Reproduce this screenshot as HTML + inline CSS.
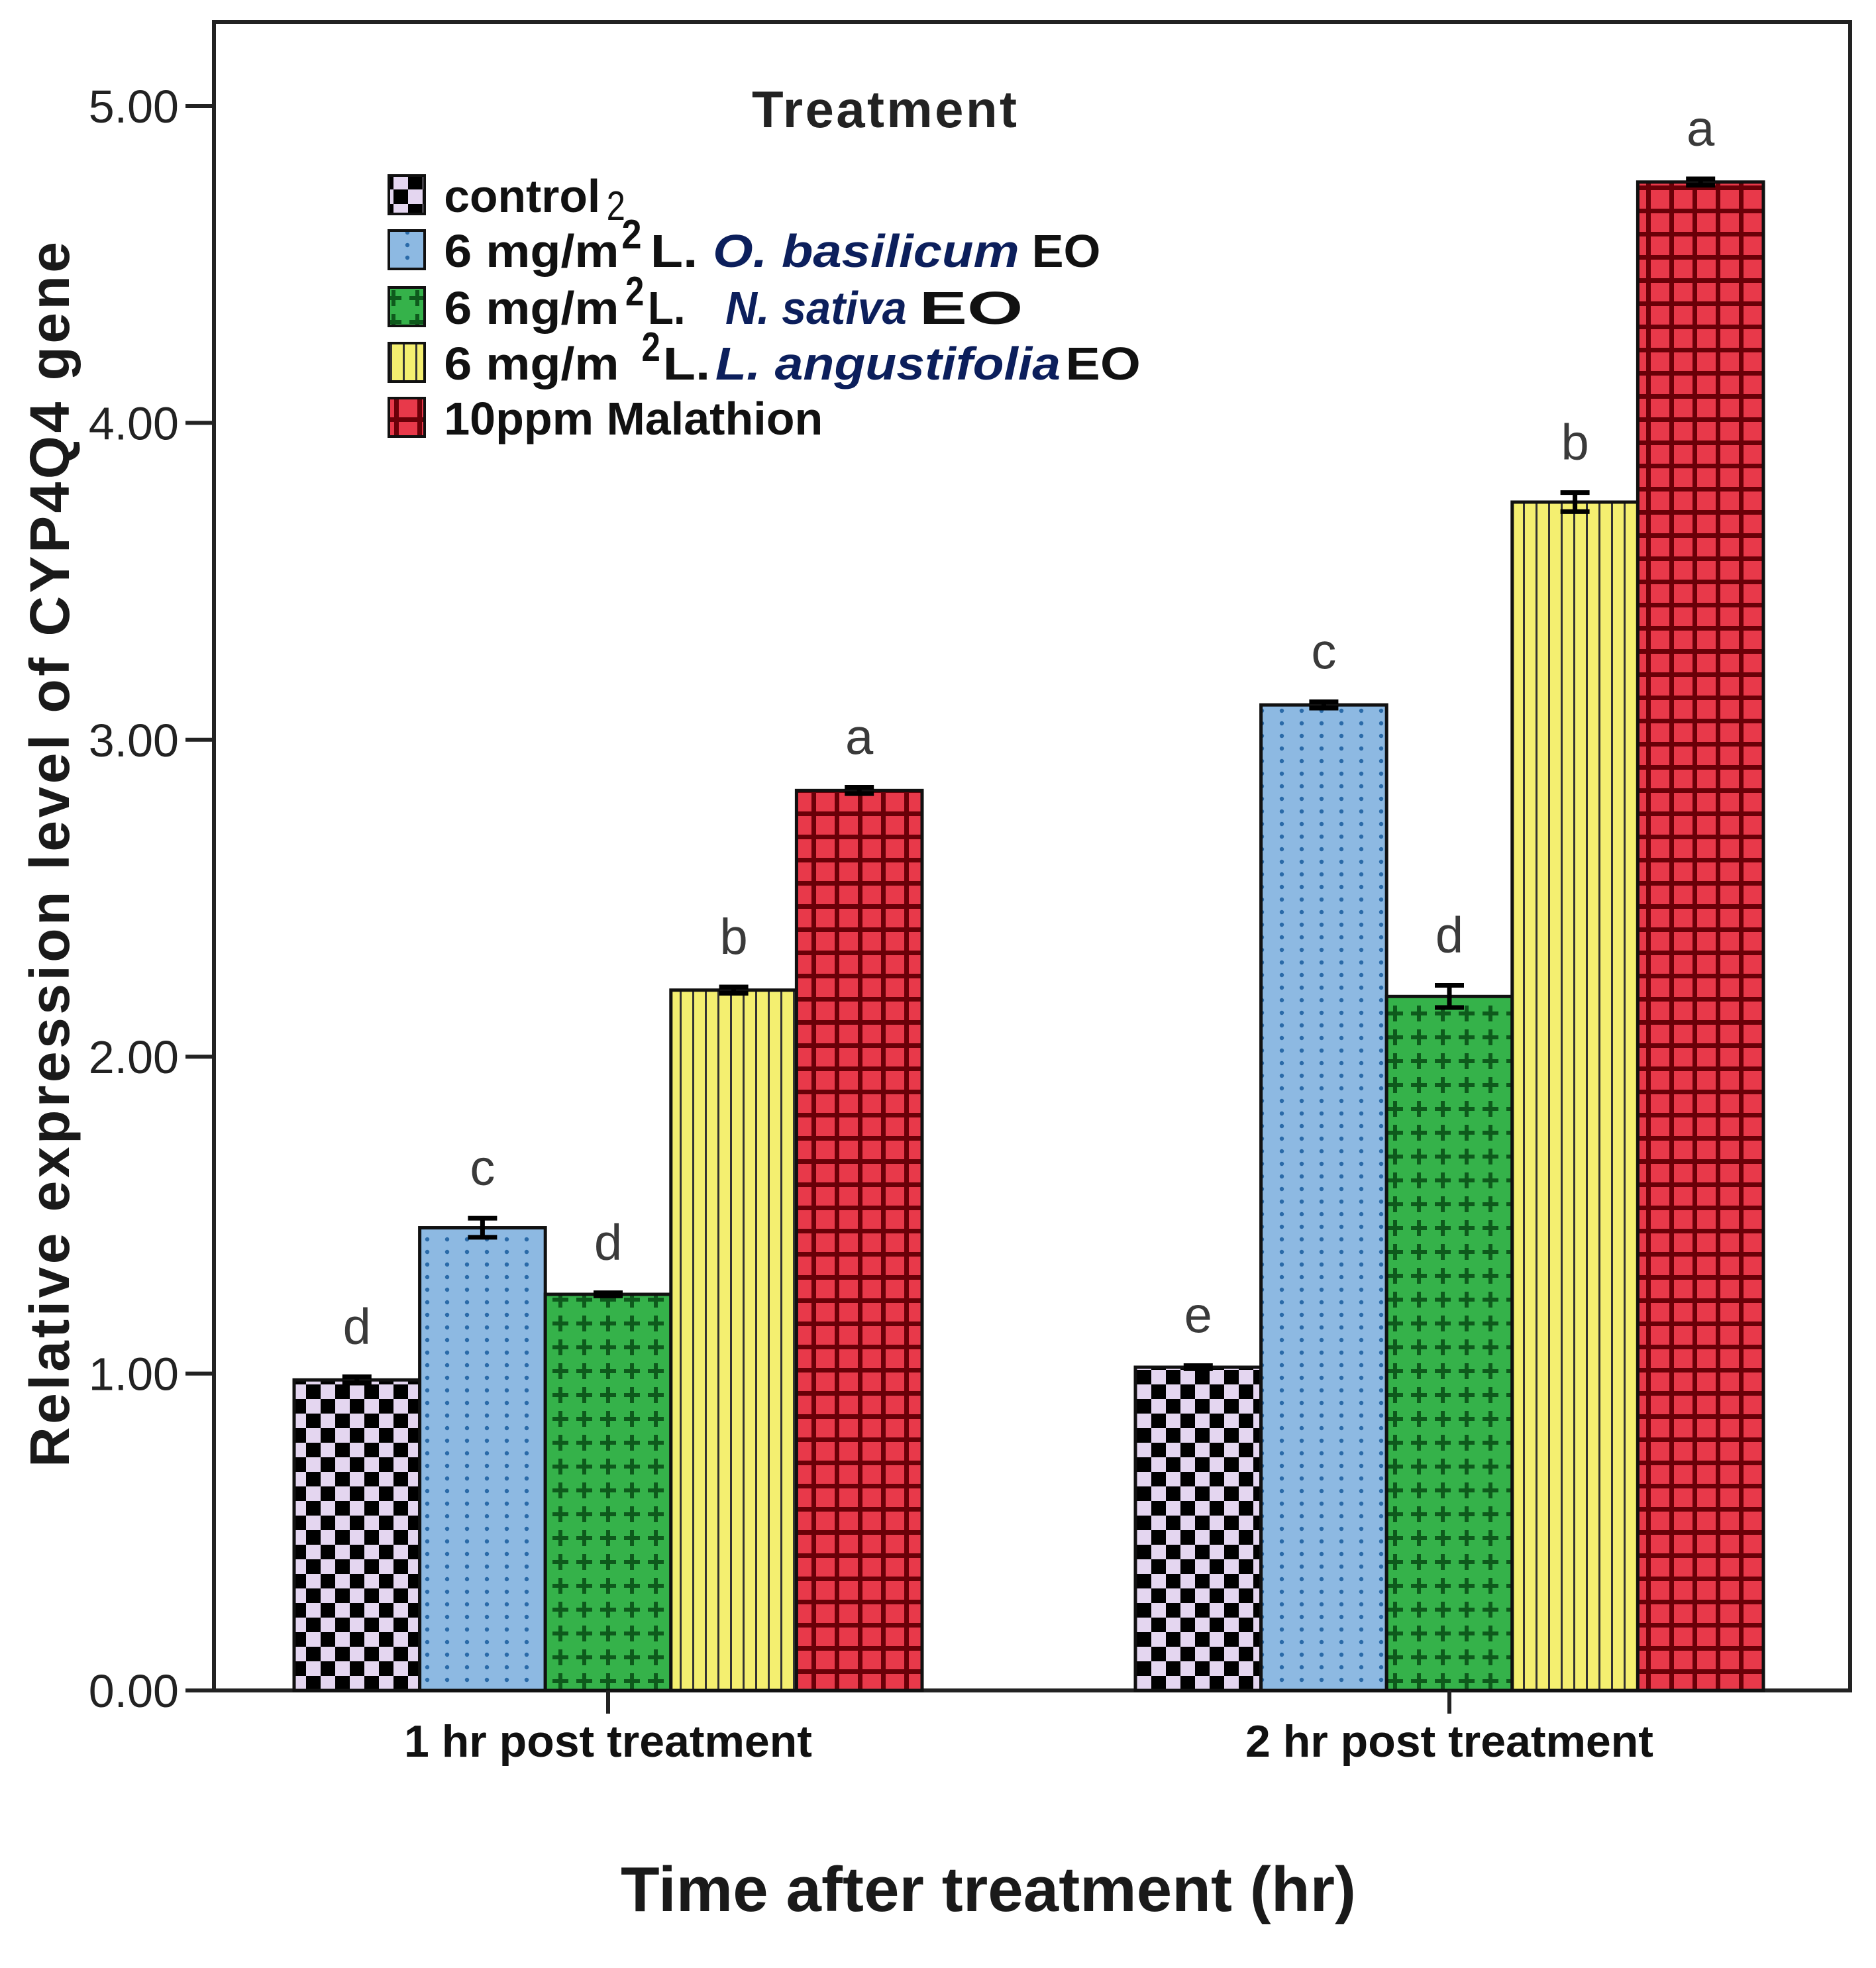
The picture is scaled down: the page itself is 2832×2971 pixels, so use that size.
<!DOCTYPE html>
<html><head><meta charset="utf-8"><style>
html,body{margin:0;padding:0;background:#fff}
svg{display:block}
text{font-family:"Liberation Sans",Arial,sans-serif}
</style></head><body>
<svg id="chart" width="2832" height="2971" viewBox="0 0 2832 2971" xmlns="http://www.w3.org/2000/svg">
<defs>
<pattern id="p0" width="44" height="44" patternUnits="userSpaceOnUse"><rect width="44" height="44" fill="#e4d6f0"/><rect width="22" height="22" fill="#000"/><rect x="22" y="22" width="22" height="22" fill="#000"/></pattern>
<pattern id="p1" width="30" height="19" patternUnits="userSpaceOnUse"><rect width="30" height="19" fill="#8db9e2"/><circle cx="15" cy="9" r="3.2" fill="#2a6aa8"/></pattern>
<pattern id="p2" width="36" height="36" patternUnits="userSpaceOnUse"><rect width="36" height="36" fill="#35b24a"/><path d="M18 6v24M6 18h24" stroke="#0e5a1c" stroke-width="6"/></pattern>
<pattern id="p3" width="19" height="19" patternUnits="userSpaceOnUse"><rect width="19" height="19" fill="#f4ef70"/><rect x="0" width="3" height="19" fill="#333"/></pattern>
<pattern id="p4" width="35" height="35" patternUnits="userSpaceOnUse"><rect width="35" height="35" fill="#e8394a"/><rect width="35" height="7" fill="#6a0008"/><rect width="7" height="35" fill="#6a0008"/></pattern>
</defs>
</svg>
<script>
const groups = ["1 hr post treatment", "2  hr post treatment"];
const series = ["control", "O. basilicum", "N. sativa", "L. angustifolia", "Malathion"];
const valuesG1 = [0.98, 1.46, 1.25, 2.21, 2.84];
const valuesG2 = [1.02, 3.11, 2.19, 3.75, 4.76];
const errG1 = [0.01, 0.03, 0.005, 0.01, 0.01];
const errG2 = [0.005, 0.01, 0.035, 0.03, 0.01];
const lettersG1 = ["d", "c", "d", "b", "a"];
const lettersG2 = ["e", "c", "d", "b", "a"];
const yTicks = [0, 1, 2, 3, 4, 5];
const yTickLabels = ["0.00", "1.00", "2.00", "3.00", "4.00", "5.00"];

const NS = "http://www.w3.org/2000/svg";
const svg = document.getElementById("chart");
const L = 323, R = 2793, T = 33, B = 2552;
const y = v => B - v * 478.4;
const groupStart = [444, 1714], barW = 189.6;
const x = (g, i) => groupStart[g] + i * barW;
function mk(tag, attrs, parent) { const e = document.createElementNS(NS, tag); for (const k in attrs) e.setAttribute(k, attrs[k]); (parent || svg).appendChild(e); return e; }

const frame = mk("rect", {x: L, y: T, width: R - L, height: B - T, fill: "none", stroke: "#222", "stroke-width": 6});



yTicks.forEach((t, i) => {
  const tk = mk("line", {x1: 280, x2: L, y1: y(t), y2: y(t), stroke: "#222", "stroke-width": 6});
  
  
  const lb = mk("text", {x: 270, y: y(t) + 25, "text-anchor": "end", "font-size": 70, fill: "#222"});
  lb.textContent = yTickLabels[i];
  
  
});

const vals = [valuesG1, valuesG2], errs = [errG1, errG2], lets = [lettersG1, lettersG2];
vals.forEach((vs, g) => {
  vs.forEach((v, i) => {
    const b = mk("rect", {x: x(g, i), y: y(v), width: barW, height: B - y(v), fill: "url(#p" + i + ")", stroke: "#111", "stroke-width": 5});
    
    
    const cx = x(g, i) + barW / 2, e = errs[g][i];
    const eb = mk("path", {d: `M${cx - 22} ${y(v + e)}h44M${cx} ${y(v + e)}V${y(v - e)}M${cx - 22} ${y(v - e)}h44`, stroke: "#000", "stroke-width": 7, fill: "none"});
    
    
    const lt = mk("text", {x: cx, y: y(v + e) - 50, "text-anchor": "middle", "font-size": 76, fill: "#3a3a3a"});
    lt.textContent = lets[g][i];
    
    
  });
  const gc = groupStart[g] + barW * 2.5;
  const xt = mk("line", {x1: gc, x2: gc, y1: B, y2: B + 35, stroke: "#222", "stroke-width": 6});
  
  
  const xl = mk("text", {x: gc, y: 2652, "text-anchor": "middle", "font-size": 68, "font-weight": "bold", fill: "#111"});
  xl.textContent = groups[g];
  
  
});

const xt = mk("text", {x: 1492, y: 2885, "text-anchor": "middle", "font-size": 96, fill: "#1a1a1a", textLength: 1110, "font-weight": "bold"});
xt.textContent = "Time after treatment (hr)";


const yt = mk("text", {x: 0, y: 0, "text-anchor": "middle", "font-size": 84, "font-weight": "bold", fill: "#1a1a1a", textLength: 1850, transform: "translate(104,1290) rotate(-90)"});
yt.textContent = "Relative expression level of CYP4Q4 gene";



const lg = mk("g", {});


const lt = mk("text", {x: 1335, y: 192, "text-anchor": "middle", "font-size": 78, "font-weight": "bold", fill: "#222", textLength: 400}, lg);
lt.textContent = "Treatment";


const S = 1.888;
const rowsY = [295, 378, 464, 548, 631];
// [text, x0 (display), x1 (display), dy, italic]
const rows = [
  [["control", 355, 480, 0, 0], ["2", 485, 500, 12, 0]],
  [["6 mg/m", 355, 495, 0, 0], ["2", 497, 513, -28, 0], ["L.", 520, 558, 0, 0], ["O. basilicum", 570, 815, 0, 1], ["EO", 825, 880, 0, 0]],
  [["6 mg/m", 355, 495, 0, 0], ["2", 500, 515, -28, 0], ["L.", 518, 548, 0, 0], ["N. sativa", 580, 725, 0, 1], ["EO", 735, 818, 0, 0]],
  [["6 mg/m", 355, 495, 0, 0], ["2", 513, 528, -28, 0], ["L.", 530, 568, 0, 0], ["L. angustifolia", 572, 848, 0, 1], ["EO", 852, 912, 0, 0]],
  [["10ppm Malathion", 355, 658, 0, 0]]
];
rows.forEach((r, i) => {
  const sw = mk("rect", {x: 587, y: rowsY[i] - 30, width: 54, height: 58, fill: "url(#p" + i + ")", stroke: "#111", "stroke-width": 4}, lg);
  
  
  r.forEach(p => {
    const t = mk("text", {x: p[1] * S, y: rowsY[i] + 25 + p[3], "font-size": p[0] === "2" ? 62 : 70, "font-weight": p[0] === "2" && i === 0 ? "normal" : "bold", fill: p[4] ? "#0c1f5c" : "#111", "font-style": p[4] ? "italic" : "normal", textLength: (p[2] - p[1]) * S, lengthAdjust: "spacingAndGlyphs"}, lg);
    t.textContent = p[0];
    
    
  });
});
</script>
</body></html>
